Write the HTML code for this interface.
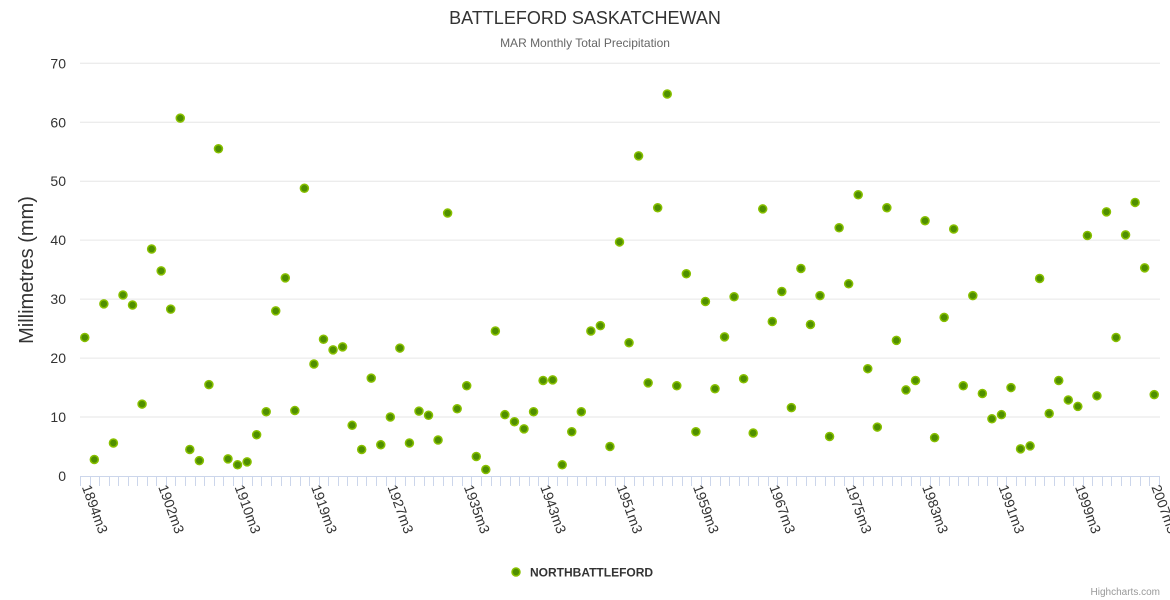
<!DOCTYPE html>
<html><head><meta charset="utf-8"><style>
html,body{margin:0;padding:0;background:#fff;}
svg{display:block;font-family:"Liberation Sans",sans-serif;}
</style></head><body>
<svg id="chart" width="1170" height="600">
<text x="585" y="24" text-anchor="middle" font-size="18" fill="#333">BATTLEFORD SASKATCHEWAN</text>
<text x="585" y="47" text-anchor="middle" font-size="12" fill="#666">MAR Monthly Total Precipitation</text>
<text transform="translate(33,270) rotate(-90)" text-anchor="middle" font-size="20" fill="#333">Millimetres (mm)</text>
<g id="grid"></g><g id="xaxis"></g><g id="yaxis"></g><g id="points"></g>
<g>
<circle cx="516" cy="572" r="4" fill="#4f8f00" stroke="#88c000" stroke-width="1.5"></circle>
<text x="530" y="576.5" font-size="12" font-weight="bold" fill="#333">NORTHBATTLEFORD</text>
</g>
<text x="1160" y="595" text-anchor="end" font-size="10" fill="#999">Highcharts.com</text>
</svg>
<script>
const years = [1894,1895,1896,1897,1898,1899,1900,1901,1902,1903,1904,1905,1906,1907,1908,1909,1910,1911,1912,1913,1914,1916,1917,1918,1919,1920,1921,1922,1923,1924,1925,1926,1927,1928,1929,1930,1931,1932,1933,1934,1935,1936,1937,1938,1939,1940,1941,1942,1943,1944,1945,1946,1947,1948,1949,1950,1951,1952,1953,1954,1955,1956,1957,1958,1959,1960,1961,1962,1963,1964,1965,1966,1967,1968,1969,1970,1971,1972,1973,1974,1975,1976,1977,1978,1979,1980,1981,1982,1983,1984,1985,1986,1987,1988,1989,1990,1991,1992,1993,1994,1995,1996,1997,1998,1999,2000,2001,2002,2003,2004,2005,2006,2007];
const precip = [23.5,2.8,29.2,5.6,30.7,29.0,12.2,38.5,34.8,28.3,60.7,4.5,2.6,15.5,55.5,2.9,1.9,2.4,7.0,10.9,28.0,33.6,11.1,48.8,19.0,23.2,21.4,21.9,8.6,4.5,16.6,5.3,10.0,21.7,5.6,11.0,10.3,6.1,44.6,11.4,
15.3,3.3,1.1,24.6,10.4,9.2,8.0,10.9,16.2,16.3,1.9,7.5,10.9,24.6,25.5,5.0,39.7,22.6,54.3,15.8,45.5,64.8,15.3,34.3,7.5,29.6,14.8,23.6,30.4,16.5,7.3,45.3,26.2,31.3,11.6,35.2,25.7,30.6,
6.7,42.1,32.6,47.7,18.2,8.3,45.5,23.0,14.6,16.2,43.3,6.5,26.9,41.9,15.3,30.6,14.0,9.7,10.4,15.0,4.6,5.1,33.5,10.6,16.2,12.9,11.8,40.8,13.6,44.8,23.5,40.9,46.4,35.3,13.8];
const yTicks = [0,10,20,30,40,50,60,70];
const tickEvery = 8;

const NS = 'http://www.w3.org/2000/svg';
const L = 80, R = 1159, T = 63.3, B = 476, YMAX = 70;
const step = (R - L) / years.length;
function xPos(i){ return L + step * (i + 0.5); }
function yPos(v){ return B - (v / YMAX) * (B - T); }
function mk(tag, attrs, parent){ const e = document.createElementNS(NS, tag); for (const k in attrs) e.setAttribute(k, attrs[k]); parent.appendChild(e); return e; }

const grid = document.getElementById('grid'), ya = document.getElementById('yaxis'), xa = document.getElementById('xaxis'), pts = document.getElementById('points');
yTicks.forEach(v => {
  const y = yPos(v);
  if (v > 0) {
    const g = mk('line', {x1:L, x2:R+1, y1:y, y2:y, stroke:'#e6e6e6', 'stroke-width':1}, grid);
    
    
  }
  const t = mk('text', {x:66, y:y+5, 'text-anchor':'end', 'font-size':14, fill:'#333'}, ya);
  t.textContent = v;
  
  
});
const ax = mk('line', {x1:L, x2:R+1, y1:B+0.5, y2:B+0.5, stroke:'#ccd6eb', 'stroke-width':1}, xa);


for (let i = 0; i <= years.length; i++) {
  const x = Math.round(L + step * i) + 0.5;
  const tk = mk('line', {x1:x, x2:x, y1:B, y2:B+10, stroke:'#ccd6eb', 'stroke-width':1}, xa);
  
  
}
years.forEach((yr, i) => {
  if (i % tickEvery !== 0) return;
  const x = xPos(i) - 3, y = 487;
  const t = mk('text', {x:x, y:y, 'font-size':14, fill:'#333', transform:'rotate(70 '+x+' '+y+')'}, xa);
  t.textContent = yr + 'm3';
  
  
});
precip.forEach((v, i) => {
  const c = mk('circle', {cx:xPos(i), cy:yPos(v), r:4, fill:'#4f8f00', stroke:'#88c000', 'stroke-width':1.5}, pts);
  
  
});
</script>
</body></html>
